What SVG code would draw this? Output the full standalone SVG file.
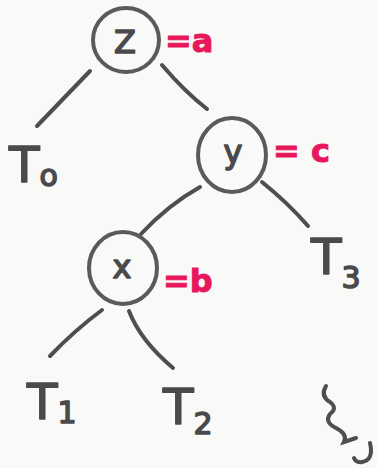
<svg xmlns="http://www.w3.org/2000/svg" width="377" height="468" viewBox="0 0 377 468">
  <style>
    .ring { fill: none; stroke: #5a5a5c; stroke-width: 4; }
    .edge { fill: none; stroke: #4e4e50; stroke-width: 4; stroke-linecap: round; }
    .lbl { font-family: "DejaVu Sans", "Liberation Sans", sans-serif; fill: #4a4a4c; stroke: #4a4a4c; stroke-width: 1.5; stroke-linejoin: round; }
    .key { font-size: 32px; text-anchor: middle; }
    .leaf { font-size: 50px; }
    .sub { font-size: 30px; }
    .tag { font-family: "DejaVu Sans", "Liberation Sans", sans-serif; fill: #e8175d; stroke: #e8175d; stroke-width: 1; font-size: 32px; font-weight: bold; }
  </style>
  <rect width="377" height="468" fill="#f9f9f7"/>

  <!-- tree edges -->
  <g id="edges">
    <path class="edge" d="M90 71 L37 126"/>
    <path class="edge" d="M162 65 Q185 92 207 109"/>
    <path class="edge" d="M200 187 Q168 205 141 234"/>
    <path class="edge" d="M262 182 Q288 203 308 226"/>
    <path class="edge" d="M102 310 Q75 330 50 356"/>
    <path class="edge" d="M129 311 Q140 340 173 368"/>
  </g>

  <!-- inner nodes -->
  <g id="node-z">
    <ellipse class="ring" cx="126" cy="40" rx="33" ry="32"/>
    <text class="lbl key" x="125" y="53">Z</text>
    <text class="tag" x="165" y="52">=a</text>
  </g>
  <g id="node-y">
    <ellipse class="ring" cx="232" cy="155" rx="34" ry="37"/>
    <text class="lbl key" x="233" y="163">y</text>
    <text class="tag" x="273" y="162">= c</text>
  </g>
  <g id="node-x">
    <ellipse class="ring" cx="123" cy="268" rx="34" ry="36"/>
    <text class="lbl key" x="122" y="278">x</text>
    <text class="tag" x="163" y="292" font-size="36">=b</text>
  </g>

  <!-- subtrees -->
  <g id="leaf-t0">
    <text class="lbl leaf" x="9" y="182">T<tspan class="sub" dy="4">o</tspan></text>
  </g>
  <g id="leaf-t3">
    <text class="lbl leaf" x="311" y="274">T<tspan class="sub" dy="14">3</tspan></text>
  </g>
  <g id="leaf-t1">
    <text class="lbl leaf" x="27" y="419">T<tspan class="sub" dy="4">1</tspan></text>
  </g>
  <g id="leaf-t2">
    <text class="lbl leaf" x="163" y="424">T<tspan class="sub" dy="10">2</tspan></text>
  </g>

  <!-- wavy mark under T3 -->
  <path class="edge" d="M326 386 Q320 396 330 402 Q338 408 330 414 Q324 422 336 428 Q348 434 344 442 L356 438 M370 443 Q374 460 362 462 Q356 463 354 458"/>
</svg>
